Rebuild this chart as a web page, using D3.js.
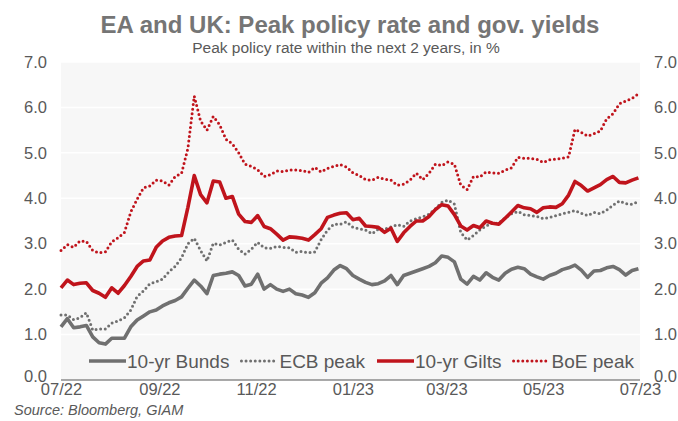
<!DOCTYPE html>
<html>
<head>
<meta charset="utf-8">
<script src="https://cdn.jsdelivr.net/npm/d3@7"></script>
<style>
  body { margin: 0; background: #fff; }
  svg text { font-family: "Liberation Sans", Arial, sans-serif; }
</style>
</head>
<body>
<svg id="chart" width="678" height="421"></svg>
<script>
var dates = ["2022-07-01","2022-07-05","2022-07-09","2022-07-13","2022-07-17","2022-07-21","2022-07-25","2022-07-29",
  "2022-08-02","2022-08-06","2022-08-10","2022-08-14","2022-08-18","2022-08-22","2022-08-26","2022-08-30",
  "2022-09-03","2022-09-07","2022-09-11","2022-09-15","2022-09-19","2022-09-23","2022-09-27",
  "2022-10-01","2022-10-05","2022-10-09","2022-10-13","2022-10-17","2022-10-21","2022-10-25","2022-10-29",
  "2022-11-02","2022-11-06","2022-11-10","2022-11-14","2022-11-18","2022-11-22","2022-11-26","2022-11-30",
  "2022-12-04","2022-12-08","2022-12-12","2022-12-16","2022-12-20","2022-12-24","2022-12-28",
  "2023-01-01","2023-01-05","2023-01-09","2023-01-13","2023-01-17","2023-01-21","2023-01-25","2023-01-29",
  "2023-02-02","2023-02-06","2023-02-10","2023-02-14","2023-02-18","2023-02-22","2023-02-26",
  "2023-03-02","2023-03-06","2023-03-10","2023-03-14","2023-03-18","2023-03-22","2023-03-26","2023-03-30",
  "2023-04-03","2023-04-07","2023-04-11","2023-04-15","2023-04-19","2023-04-23","2023-04-27",
  "2023-05-01","2023-05-05","2023-05-09","2023-05-13","2023-05-17","2023-05-21","2023-05-25","2023-05-29",
  "2023-06-02","2023-06-06","2023-06-10","2023-06-14","2023-06-18","2023-06-22","2023-06-26","2023-06-30"];

var bunds = [1.17,1.35,1.15,1.17,1.20,0.95,0.82,0.79,0.92,0.92, 0.92,1.17,1.32,1.41,1.50,1.54,1.63,1.70,1.75,1.83,
  2.02,2.20,2.07,1.90,2.30,2.33,2.35,2.38,2.30,2.07, 2.11,2.33,2.00,2.10,2.00,1.95,2.00,1.90,1.87,1.82,
  1.92,2.13,2.25,2.42,2.52,2.45,2.30,2.22,2.15,2.10, 2.12,2.18,2.30,2.10,2.30,2.35,2.40,2.45,2.50,2.58,
  2.73,2.70,2.60,2.22,2.11,2.28,2.20,2.36,2.26,2.20, 2.35,2.44,2.48,2.45,2.33,2.27,2.22,2.30,2.35,2.43,
  2.47,2.53,2.42,2.26,2.40,2.41,2.47,2.50,2.43,2.31, 2.41,2.45];

var ecbPeak = [1.43,1.43,1.33,1.37,1.48,1.10,1.12,1.12,1.25,1.30, 1.37,1.54,1.84,1.96,2.12,2.16,2.22,2.38,2.50,2.69,
  3.00,3.12,2.85,2.62,3.01,2.97,3.03,3.08,2.88,2.77, 2.88,3.03,2.91,2.90,2.94,2.92,2.91,2.81,2.83,2.80,
  2.82,3.09,3.30,3.43,3.43,3.48,3.36,3.33,3.30,3.22, 3.32,3.32,3.37,3.42,3.38,3.50,3.55,3.59,3.65,3.77,
  3.91,3.96,3.87,3.25,3.08,3.18,3.30,3.39,3.45,3.45, 3.57,3.66,3.71,3.64,3.62,3.60,3.55,3.58,3.62,3.66,
  3.69,3.73,3.67,3.62,3.69,3.66,3.74,3.85,3.94,3.88, 3.87,3.93];

var gilts = [2.03,2.20,2.10,2.13,2.14,1.97,1.91,1.82,2.03,1.91, 2.08,2.28,2.50,2.62,2.64,2.92,3.06,3.14,3.17,3.18,
  3.80,4.50,4.08,3.90,4.38,4.36,4.00,4.04,3.65,3.49, 3.47,3.62,3.38,3.33,3.21,3.08,3.15,3.14,3.12,3.08,
  3.20,3.33,3.58,3.63,3.67,3.68,3.53,3.56,3.39,3.38, 3.36,3.25,3.34,3.05,3.24,3.38,3.50,3.50,3.60,3.75,
  3.86,3.83,3.64,3.39,3.30,3.40,3.35,3.50,3.45,3.43, 3.56,3.70,3.84,3.79,3.77,3.69,3.79,3.81,3.80,3.88,
  4.07,4.37,4.28,4.16,4.23,4.30,4.41,4.48,4.35,4.34, 4.40,4.45];

var boePeak = [2.85,2.98,2.92,3.06,3.05,2.85,2.80,2.82,3.04,3.13, 3.25,3.70,3.98,4.23,4.27,4.40,4.38,4.29,4.48,4.55,
  5.10,6.25,5.70,5.50,5.80,5.62,5.30,5.20,5.00,4.75, 4.70,4.63,4.48,4.52,4.60,4.59,4.62,4.62,4.61,4.57,
  4.68,4.58,4.66,4.70,4.74,4.69,4.56,4.50,4.41,4.40, 4.46,4.42,4.40,4.29,4.31,4.40,4.55,4.41,4.55,4.75,
  4.72,4.80,4.75,4.29,4.19,4.48,4.47,4.58,4.56,4.55, 4.62,4.67,4.90,4.88,4.88,4.86,4.79,4.85,4.86,4.88,
  4.91,5.52,5.45,5.37,5.42,5.48,5.75,5.86,6.08,6.14, 6.20,6.30];

var yTicks = [0, 1, 2, 3, 4, 5, 6, 7];

var grey = "#707070", red = "#c0141c", textCol = "#595959";

var series = [
  { name: "10-yr Bunds", values: bunds, color: grey, dotted: false },
  { name: "ECB peak", values: ecbPeak, color: grey, dotted: true },
  { name: "10-yr Gilts", values: gilts, color: red, dotted: false },
  { name: "BoE peak", values: boePeak, color: red, dotted: true }
];

var svg = d3.select("#chart");
// note: "top" is taken by window.top, so plot edges get their own names
var plotL = 61, plotR = 640, plotT = 62, plotB = 380;
var parse = d3.timeParse("%Y-%m-%d");

var x = d3.scaleTime()
  .domain([parse("2022-07-01"), parse("2023-07-01")])
  .range([plotL, plotR]);
var y = d3.scaleLinear().domain([0, 7]).range([plotB, plotT]);

// plot background + gridlines
svg.append("rect")
  .attr("x", plotL).attr("y", plotT)
  .attr("width", plotR - plotL).attr("height", plotB - plotT)
  .attr("fill", "#f7f7f7");

svg.append("g").selectAll("line")
  .data(yTicks.filter(function(d){ return d > 0; }))
  .enter().append("line")
  .attr("x1", plotL).attr("x2", plotR)
  .attr("y1", function(d){ return y(d); })
  .attr("y2", function(d){ return y(d); })
  .attr("stroke", "#fff").attr("stroke-width", 1.5);

// axes
var fmt = d3.format(".1f");
var yl = svg.append("g").attr("transform", "translate(" + plotL + ",0)")
  .call(d3.axisLeft(y).tickValues(yTicks).tickFormat(fmt).tickSize(0).tickPadding(14));
var yr = svg.append("g").attr("transform", "translate(" + plotR + ",0)")
  .call(d3.axisRight(y).tickValues(yTicks).tickFormat(fmt).tickSize(0).tickPadding(14));
var xb = svg.append("g").attr("transform", "translate(0," + plotB + ")")
  .call(d3.axisBottom(x).ticks(d3.timeMonth.every(2)).tickFormat(d3.timeFormat("%m/%y")).tickSize(0).tickPadding(3.5));

[yl, yr, xb].forEach(function(g){
  g.selectAll("text").attr("fill", textCol).style("font-size", "16.5px");
  g.select(".domain").remove();
});
// lift the 0.0 labels a touch so they clear the date labels
yl.selectAll("text").filter(function(d){ return d === 0; }).attr("dy", "0.1em");
yr.selectAll("text").filter(function(d){ return d === 0; }).attr("dy", "0.1em");

svg.append("line")
  .attr("x1", plotL).attr("x2", plotR)
  .attr("y1", plotB).attr("y2", plotB)
  .attr("stroke", "#8c8c8c").attr("stroke-width", 1.5);

// lines
var line = d3.line()
  .x(function(d, i){ return x(parse(dates[i])); })
  .y(function(d){ return y(d); });

function styleStroke(sel, s) {
  sel.attr("fill", "none").attr("stroke", s.color);
  if (s.dotted) {
    sel.attr("stroke-width", 3).attr("stroke-linecap", "round").attr("stroke-dasharray", "0 4.6");
  } else {
    sel.attr("stroke-width", 3.6).attr("stroke-linejoin", "round");
  }
}

series.forEach(function(s){
  svg.append("path").datum(s.values).attr("d", line).call(styleStroke, s);
});

// legend
var lx = 89, ly = 361;
series.forEach(function(s){
  svg.append("line")
    .attr("x1", lx).attr("x2", lx + (s.dotted ? 33 : 37))
    .attr("y1", ly).attr("y2", ly)
    .call(styleStroke, s);
  var t = svg.append("text")
    .attr("x", lx + 38).attr("y", ly + 6.5)
    .attr("fill", textCol).style("font-size", "19px")
    .text(s.name);
  lx += 38 + t.node().getComputedTextLength() + 12;
});

// titles
svg.append("text")
  .attr("x", 350).attr("y", 33).attr("text-anchor", "middle")
  .attr("fill", "#757575").style("font-size", "24px").style("font-weight", "bold")
  .text("EA and UK: Peak policy rate and gov. yields");
svg.append("text")
  .attr("x", 346).attr("y", 53).attr("text-anchor", "middle")
  .attr("fill", textCol).style("font-size", "15.5px")
  .text("Peak policy rate within the next 2 years, in %");
svg.append("text")
  .attr("x", 14).attr("y", 415)
  .attr("fill", textCol).style("font-size", "14.5px").style("font-style", "italic")
  .text("Source: Bloomberg, GIAM");
</script>
</body>
</html>
